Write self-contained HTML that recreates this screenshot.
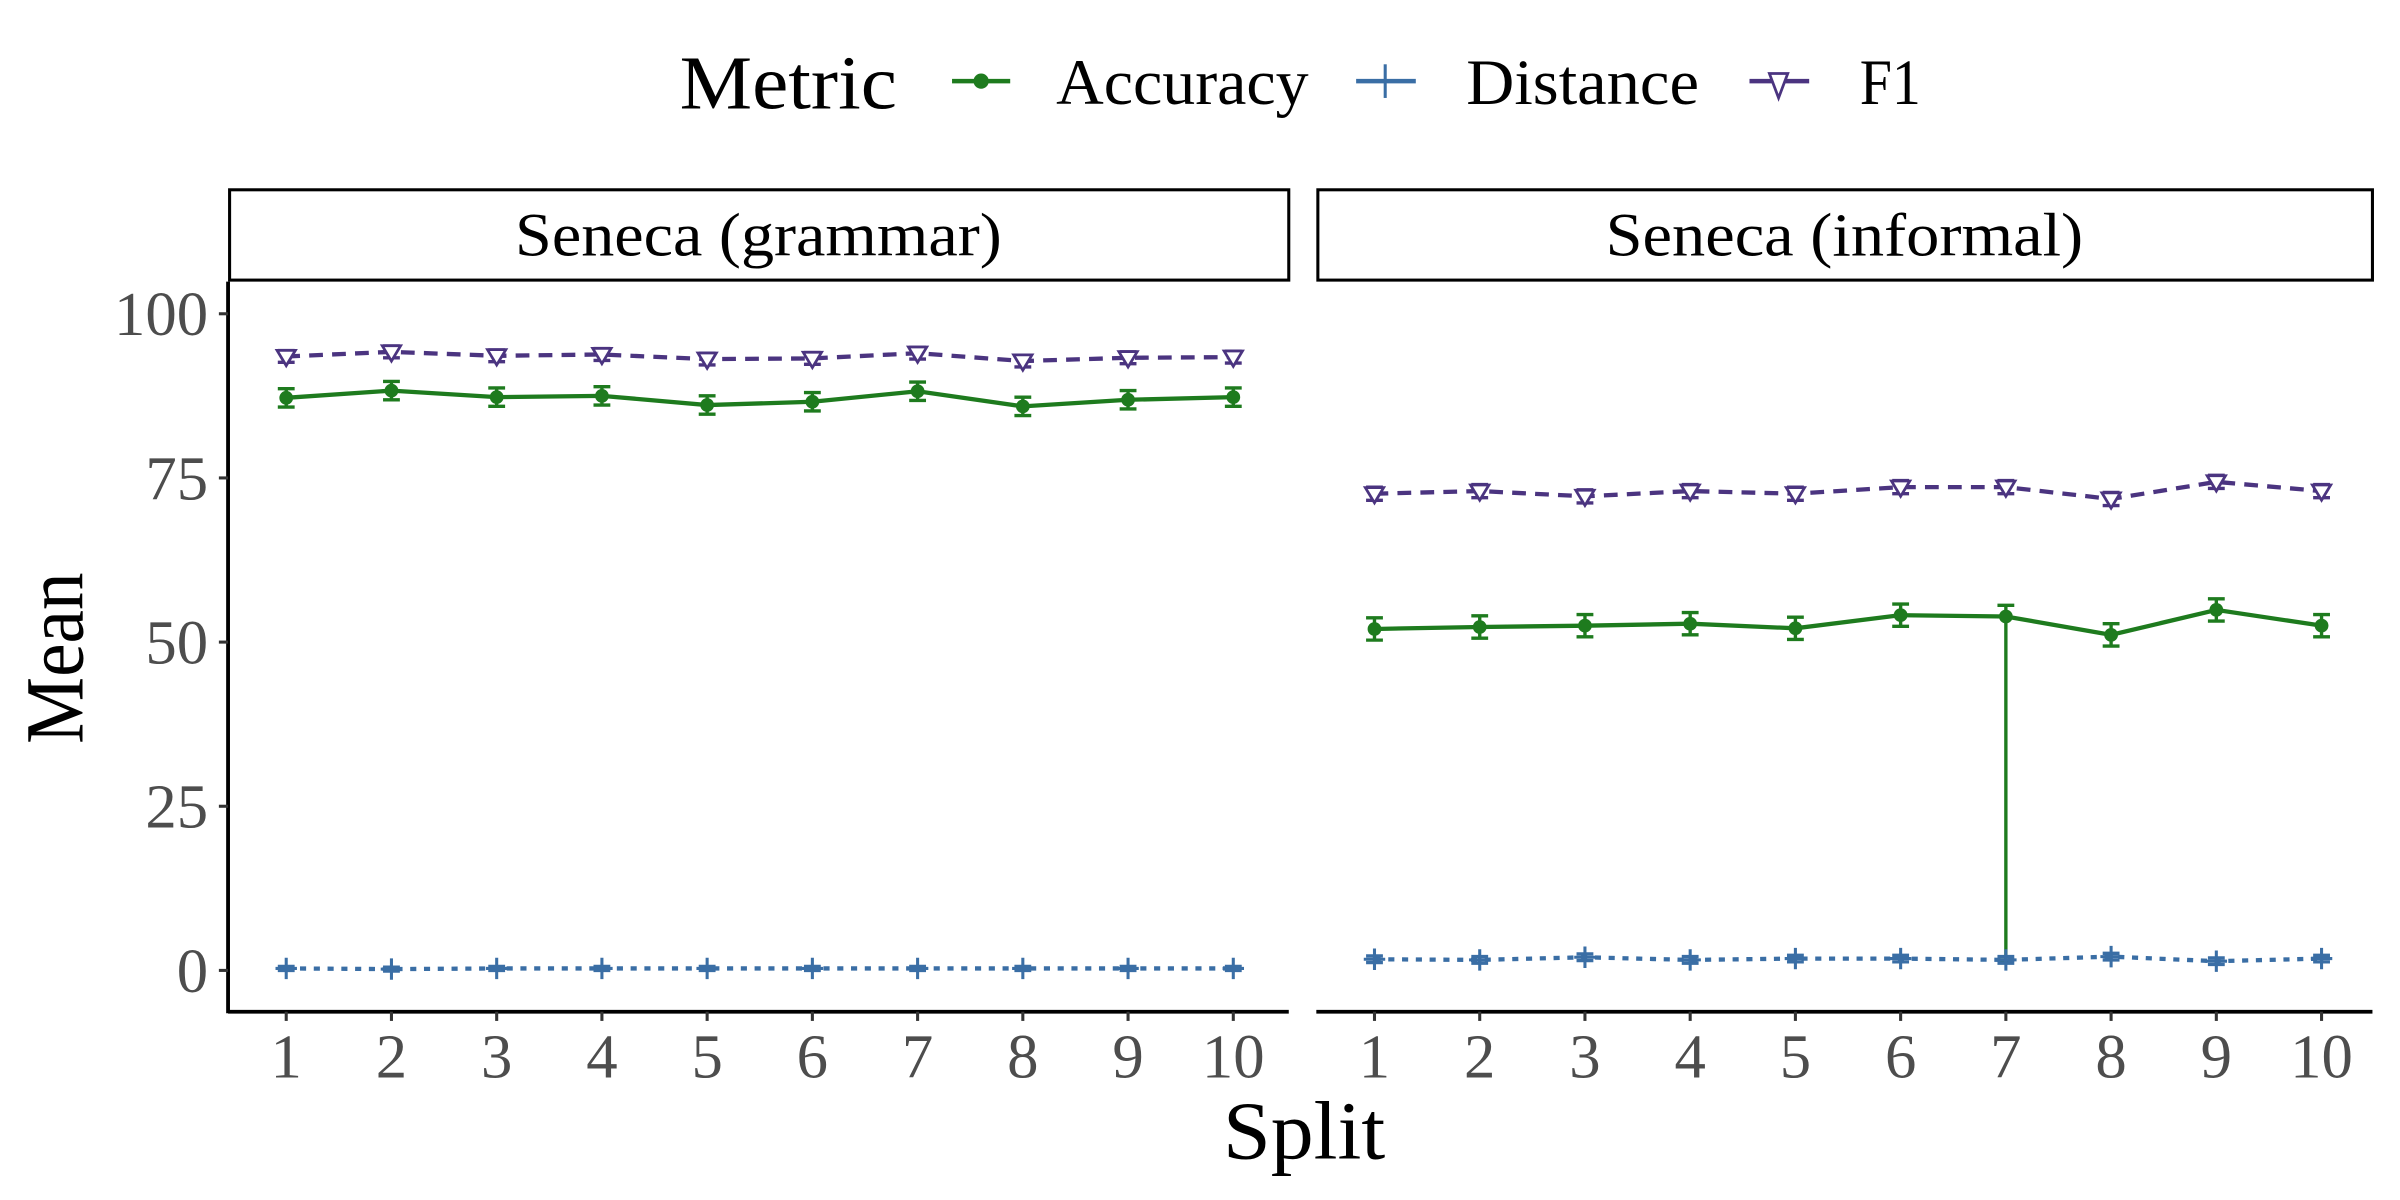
<!DOCTYPE html>
<html><head><meta charset="utf-8"><style>
html,body{margin:0;padding:0;background:#fff}
svg{display:block;font-family:"Liberation Serif",serif}
</style></head><body>
<svg id="chart" width="2400" height="1200" viewBox="0 0 1568 784">
<g id="legend">
<text x="444" y="71" font-size="50" textLength="142" lengthAdjust="spacingAndGlyphs">Metric</text>
<g><line x1="622" y1="53" x2="660" y2="53" stroke="#1e7b1e" stroke-width="3"/><circle cx="641" cy="53" r="5" fill="#1e7b1e"/><text x="690" y="68" font-size="42" textLength="165" lengthAdjust="spacingAndGlyphs">Accuracy</text></g>
<g><line x1="886" y1="53" x2="925" y2="53" stroke="#3a6ea5" stroke-width="3"/><line x1="905" y1="42" x2="905" y2="64" stroke="#3a6ea5" stroke-width="2"/><text x="958" y="68" font-size="42" textLength="152" lengthAdjust="spacingAndGlyphs">Distance</text></g>
<g><line x1="1143" y1="53" x2="1182" y2="53" stroke="#4b3480" stroke-width="3"/><path d="M1156,48 L1168,48 L1162,64 Z" fill="#fff" stroke="#4b3480" stroke-width="1.8"/><text x="1215" y="68" font-size="42" textLength="40" lengthAdjust="spacingAndGlyphs">F1</text></g>
</g>
<text x="0" y="0" font-size="54" transform="translate(54,430) rotate(-90)" text-anchor="middle" textLength="112" lengthAdjust="spacingAndGlyphs">Mean</text>
<text x="852" y="757" font-size="54" text-anchor="middle" textLength="106" lengthAdjust="spacingAndGlyphs">Split</text>
<g id="panels"></g>
</svg>
<script>
const ns="http://www.w3.org/2000/svg";
const splits=[1,2,3,4,5,6,7,8,9,10];
const yTicks=[0,25,50,75,100];
const panelTitles=["Seneca (grammar)","Seneca (informal)"];
const accG=[87.2,88.3,87.3,87.5,86.1,86.6,88.2,85.9,86.9,87.3];
const accGerr=[1.4,1.4,1.4,1.4,1.4,1.4,1.4,1.4,1.4,1.4];
const f1G=[93.5,94.2,93.6,93.8,93.1,93.2,94.0,92.8,93.3,93.4];
const f1Gerr=[0.9,0.9,0.9,0.9,0.9,0.9,0.9,0.9,0.9,0.9];
const distG=[0.3,0.2,0.3,0.3,0.3,0.3,0.3,0.3,0.3,0.3];
const distGerr=[0.3,0.3,0.3,0.3,0.3,0.3,0.3,0.3,0.3,0.3];
const accI=[52.0,52.3,52.5,52.8,52.1,54.1,53.9,51.1,54.9,52.5];
const accIlo=[50.3,50.6,50.8,51.1,50.4,52.4,1.6,49.4,53.2,50.8];
const accIhi=[53.7,54.0,54.2,54.5,53.8,55.8,55.6,52.8,56.6,54.2];
const f1I=[72.6,73.0,72.2,73.0,72.6,73.6,73.6,71.8,74.4,73.0];
const f1Ierr=[1.0,1.0,1.0,1.0,1.0,1.0,1.0,1.0,1.0,1.0];
const distI=[1.7,1.6,2.0,1.6,1.8,1.8,1.6,2.1,1.4,1.8];
const distIerr=[0.5,0.5,0.5,0.5,0.5,0.5,0.5,0.5,0.5,0.5];

const panelX=[[149,842],[860,1550]];
const yScale=v=>634-(v/25)*107.25;
function mk(tag,attrs,parent,name,inter){const e=document.createElementNS(ns,tag);for(const k in attrs)e.setAttribute(k,attrs[k]);


parent.appendChild(e);return e;}
const root=document.getElementById('panels');
const series=[
 [{v:accG,lo:accG.map((v,i)=>v-accGerr[i]),hi:accG.map((v,i)=>v+accGerr[i]),c:"#1e7b1e",dash:"",m:"dot",n:"accuracy"},
  {v:distG,lo:distG.map((v,i)=>v-distGerr[i]),hi:distG.map((v,i)=>v+distGerr[i]),c:"#3a6ea5",dash:"4 5",m:"plus",n:"distance"},
  {v:f1G,lo:f1G.map((v,i)=>v-f1Gerr[i]),hi:f1G.map((v,i)=>v+f1Gerr[i]),c:"#4b3480",dash:"9 6",m:"tri",n:"f1"}],
 [{v:accI,lo:accIlo,hi:accIhi,c:"#1e7b1e",dash:"",m:"dot",n:"accuracy"},
  {v:distI,lo:distI.map((v,i)=>v-distIerr[i]),hi:distI.map((v,i)=>v+distIerr[i]),c:"#3a6ea5",dash:"4 5",m:"plus",n:"distance"},
  {v:f1I,lo:f1I.map((v,i)=>v-f1Ierr[i]),hi:f1I.map((v,i)=>v+f1Ierr[i]),c:"#4b3480",dash:"9 6",m:"tri",n:"f1"}]];
panelX.forEach((px,p)=>{
 const g=mk('g',{},root,'panel-'+(p+1),false);
 const xScale=s=>px[0]+38+(s-1)*68.75;
 mk('rect',{x:px[0]+1,y:124,width:px[1]-px[0]-1,height:59,fill:"#fff",stroke:"#000","stroke-width":2},g,'strip-'+(p+1),false);
 const tw=p===0?318:312;
 const t=mk('text',{x:(px[0]+px[1])/2,y:167,"font-size":40,"text-anchor":"middle",textLength:tw,lengthAdjust:"spacingAndGlyphs"},g,'strip-label-'+(p+1),false);t.textContent=panelTitles[p];
 mk('line',{x1:px[0],y1:661,x2:px[1],y2:661,stroke:"#000","stroke-width":2.5},g,'x-axis-line',false);
 if(p===0){mk('line',{x1:px[0],y1:184,x2:px[0],y2:662,stroke:"#000","stroke-width":2.5},g,'y-axis-line',false);
  yTicks.forEach(v=>{mk('line',{x1:px[0]-6,y1:yScale(v),x2:px[0],y2:yScale(v),stroke:"#333","stroke-width":2},g,'y-tick',false);
   const l=mk('text',{x:px[0]-13,y:yScale(v)+14,"font-size":41,"text-anchor":"end",fill:"#4d4d4d"},g,'y-tick-label',false);l.textContent=v;});}
 splits.forEach(s=>{mk('line',{x1:xScale(s),y1:661,x2:xScale(s),y2:667,stroke:"#333","stroke-width":2},g,'x-tick',false);
  const l=mk('text',{x:xScale(s),y:704,"font-size":41,"text-anchor":"middle",fill:"#4d4d4d"},g,'x-tick-label',false);l.textContent=s;});
 series[p].forEach(se=>{
  const sg=mk('g',{},g,'series-'+se.n,false);
  const pts=splits.map((s,i)=>xScale(s)+","+yScale(se.v[i])).join(" ");
  const pl=mk('polyline',{points:pts,fill:"none",stroke:se.c,"stroke-width":2.8},sg,'line-'+se.n,false);
  if(se.dash)pl.setAttribute('stroke-dasharray',se.dash);
  splits.forEach((s,i)=>{const x=xScale(s),yl=yScale(se.lo[i]),yh=yScale(se.hi[i]);
   mk('path',{d:`M${x-5.5},${yh}H${x+5.5}M${x},${yh}V${yl}M${x-5.5},${yl}H${x+5.5}`,stroke:se.c,"stroke-width":2.2,fill:"none"},sg,'errorbar-'+se.n,false);
   const y=yScale(se.v[i]);
   if(se.m==="dot")mk('circle',{cx:x,cy:y,r:4.5,fill:se.c},sg,'point-'+se.n,false);
   else if(se.m==="plus")mk('path',{d:`M${x-7},${y}H${x+7}M${x},${y-7}V${y+7}`,stroke:se.c,"stroke-width":2},sg,'point-'+se.n,false);
   else mk('path',{d:`M${x-6},${y-4}L${x+6},${y-4}L${x},${y+6}Z`,fill:"#fff",stroke:se.c,"stroke-width":1.8},sg,'point-'+se.n,false);
  });
 });
});
</script>
</body></html>
